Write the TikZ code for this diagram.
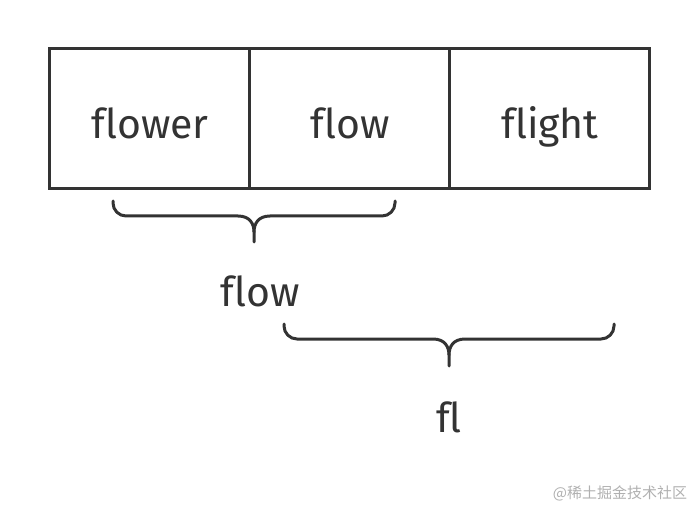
\documentclass[tikz,border=0pt]{standalone}
\usepackage{fontspec}
\setmainfont[Ligatures=NoCommon]{Fira Sans}
\newfontfamily\cjk{Noto Sans CJK SC}
\definecolor{ink}{HTML}{333333}
\definecolor{wm}{HTML}{B0B0B0}
\begin{document}
\begin{tikzpicture}[x=1pt,y=-1pt,
  cell/.style={draw=ink,line width=3pt,minimum width=200pt,minimum height=140pt,inner sep=0pt},
  lbl/.style={text=ink,font=\fontsize{41}{43}\selectfont,inner sep=0pt,anchor=base},
  brace/.style={draw=ink,line width=3pt,line cap=round,line join=round}]
\useasboundingbox (0,0) rectangle (700,518);
\node[cell] (c1) at (149.5,119) {};
\node[cell] (c2) at (349.5,119) {};
\node[cell] (c3) at (549.5,119) {};
\node[lbl] (w1) at (150,139) {flower};
\node[lbl] (w2) at (350,139) {flow};
\node[lbl] (w3) at (550,139) {flight};
% brace 1
\draw[brace] (113,201) -- (113,203) arc[start angle=180,end angle=90,radius=13] -- (238,216)
  .. controls (250,216) and (254,224) .. (254,232) -- (254,242);
\draw[brace] (395,201) -- (395,203) arc[start angle=0,end angle=90,radius=13] -- (270,216)
  .. controls (258,216) and (254,224) .. (254,232);
\node[lbl] (t1) at (260,306) {flow};
% brace 2
\draw[brace] (284,324) -- (284,326) arc[start angle=180,end angle=90,radius=13] -- (433,339)
  .. controls (445,339) and (449,347) .. (449,355) -- (449,366);
\draw[brace] (614,324) -- (614,326) arc[start angle=0,end angle=90,radius=13] -- (465,339)
  .. controls (453,339) and (449,347) .. (449,355);
\node[lbl] (t2) at (449,432) {fl};
\node[text=wm,font=\cjk\fontsize{15}{17}\selectfont,inner sep=0pt] (wmk) at (620,493) {@稀土掘金技术社区};
\end{tikzpicture}
\end{document}
